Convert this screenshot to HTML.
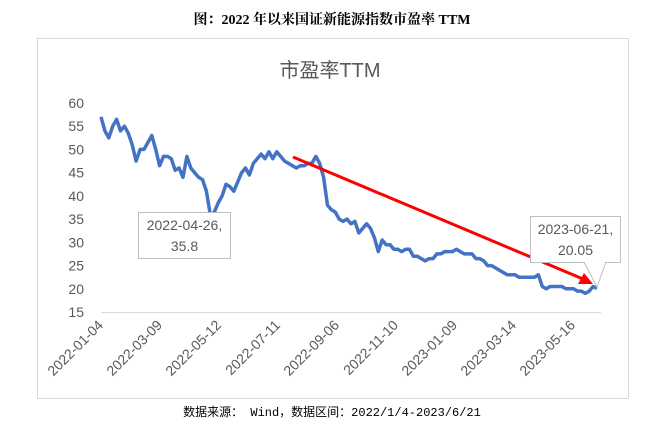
<!DOCTYPE html>
<html><head><meta charset="utf-8"><style>
body{margin:0;background:#fff;width:664px;height:448px;overflow:hidden}
svg{display:block}
</style></head><body>
<svg id="c" width="664" height="448" xmlns="http://www.w3.org/2000/svg">
<text x="332" y="24" text-anchor="middle" font-family="'Liberation Serif','Noto Serif CJK SC',serif" font-weight="bold" font-size="14" fill="#000">图：2022 年以来国证新能源指数市盈率 TTM</text>
<rect x="37.5" y="38.5" width="591" height="360" fill="#fff" stroke="#d9d9d9"/>
<text x="330" y="77" text-anchor="middle" font-family="'Liberation Sans','Noto Sans CJK SC',sans-serif" font-size="20" fill="#595959">市盈率TTM</text>
<g id="yaxis"></g><g id="xaxis"></g><g id="series"></g>
<line x1="293" y1="157" x2="583" y2="279" stroke="#ff0000" stroke-width="3"/>
<polygon points="593,284 578,284 584,273" fill="#ff0000"/>
<rect x="138.5" y="212.5" width="92" height="46" fill="#fff" stroke="#bfbfbf"/>
<text x="184.5" y="230" text-anchor="middle" font-family="'Liberation Sans',sans-serif" font-size="14" fill="#595959">2022-04-26,</text>
<text x="184.5" y="251" text-anchor="middle" font-family="'Liberation Sans',sans-serif" font-size="14" fill="#595959">35.8</text>
<polyline points="584,262 597,287 606,262" fill="#fff" stroke="#bfbfbf"/>
<rect x="530.5" y="216.5" width="90" height="46" fill="#fff" stroke="#bfbfbf"/>
<line x1="585" y1="262.5" x2="605" y2="262.5" stroke="#fff" stroke-width="1.5"/>
<text x="575.5" y="234" text-anchor="middle" font-family="'Liberation Sans',sans-serif" font-size="14" fill="#595959">2023-06-21,</text>
<text x="575.5" y="255" text-anchor="middle" font-family="'Liberation Sans',sans-serif" font-size="14" fill="#595959">20.05</text>
<text x="332" y="416" text-anchor="middle" font-family="'Liberation Mono','Noto Sans CJK SC',monospace" font-size="12" fill="#000">数据来源： Wind，数据区间：2022/1/4-2023/6/21</text>
</svg>
<script>
const yTicks=[15,20,25,30,35,40,45,50,55,60];
const xLabels=["2022-01-04","2022-03-09","2022-05-12","2022-07-11","2022-09-06","2022-11-10","2023-01-09","2023-03-14","2023-05-16"];
const peValues=[57,54,52.5,55,56.5,54,55,53.5,51,47.5,50,50,51.5,53,50,46.5,48.5,48.5,48,45.5,46,44,48.5,46,45,44,43.5,41,35.8,36.5,38.5,40,42.5,42,41,43,45,46,44.5,47,48,49,48,49.5,48,49.5,48.5,47.5,47,46.5,46,46.5,46.5,47,47,48.5,47,44,38,37,36.5,35,34.5,35,34,34.5,32,33,34,33,31,28,30.5,29.5,29.5,28.5,28.5,28,28.5,28.5,27,27,26.5,26,26.5,26.5,27.5,27.5,28,28,28,28.5,28,27.5,27.5,27.5,26.5,26.5,26,25,25,24.5,24,23.5,23,23,23,22.5,22.5,22.5,22.5,22.5,23,20.5,20,20.5,20.5,20.5,20.5,20,20,20,19.5,19.5,19,19.5,20.5,20.05];
const NS="http://www.w3.org/2000/svg";
const X0=101,X1=597,YB=312,YT=103;
const yS=v=>YB-(v-15)*(YB-YT)/45;
const xS=i=>X0+i*(X1-X0)/(peValues.length-1);
function mk(t,a){const e=document.createElementNS(NS,t);for(const k in a)e.setAttribute(k,a[k]);return e;}
const ya=document.getElementById('yaxis');
yTicks.forEach(v=>{
 const t=mk('text',{x:84,y:yS(v)+5,'text-anchor':'end','font-family':'Liberation Sans,sans-serif','font-size':14,fill:'#595959'});
 t.textContent=v;
 
 
 ya.appendChild(t);
});
const base=mk('line',{x1:X0,x2:601,y1:YB+0.5,y2:YB+0.5,stroke:'#d9d9d9'});


ya.appendChild(base);
const xa=document.getElementById('xaxis');
xLabels.forEach((s,i)=>{
 const x=104+i*59,y=326;
 const t=mk('text',{x:x,y:y,'text-anchor':'end','font-family':'Liberation Sans,sans-serif','font-size':14,fill:'#595959',transform:`rotate(-45 ${x} ${y})`});
 t.textContent=s;
 
 
 xa.appendChild(t);
});
const pts=peValues.map((v,i)=>xS(i).toFixed(1)+','+yS(v).toFixed(1)).join(' ');
const pl=mk('polyline',{points:pts,fill:'none',stroke:'#4472c4','stroke-width':3.5,'stroke-linejoin':'round'});


document.getElementById('series').appendChild(pl);
</script>
</body></html>
